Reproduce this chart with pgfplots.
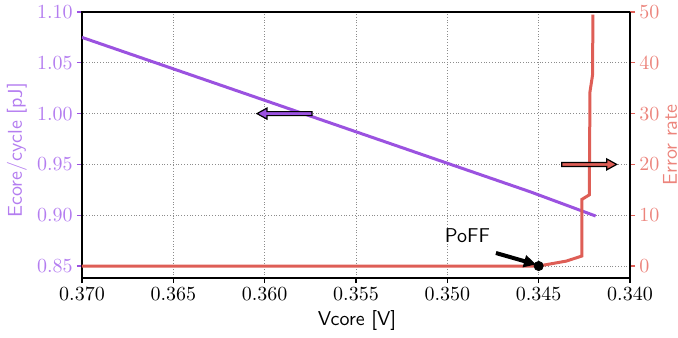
\documentclass[border=0pt]{standalone}
\usepackage{pgfplots}
\pgfplotsset{compat=1.18}
\usetikzlibrary{arrows.meta}
\definecolor{pline}{RGB}{155,82,224}
\definecolor{ptext}{RGB}{180,125,240}
\definecolor{rline}{RGB}{222,94,86}
\definecolor{rtext}{RGB}{236,132,124}
\begin{document}
\begin{tikzpicture}
\begin{axis}[
  scale only axis, width=274pt, height=133pt,
  x dir=reverse, xmin=0.340, xmax=0.370,
  ymin=0.8382, ymax=1.10,
  xtick={0.340,0.345,0.350,0.355,0.360,0.365,0.370},
  ytick={0.85,0.90,0.95,1.00,1.05,1.10},
  scaled x ticks=false, scaled y ticks=false,
  xticklabel style={/pgf/number format/fixed,/pgf/number format/fixed zerofill,/pgf/number format/precision=3, inner ysep=2pt},
  yticklabel style={/pgf/number format/fixed,/pgf/number format/fixed zerofill,/pgf/number format/precision=2,text=ptext, inner xsep=2pt},
  tick align=outside, xtick pos=bottom, ytick pos=left,
  major tick length=2.5pt,
  y tick style={pline, line width=0.6pt},
  x tick style={black, line width=0.6pt},
  axis line style={line width=0.6pt},
  grid=major, grid style={densely dotted, gray!90, line width=0.4pt},
  xlabel={\sffamily Vcore [V]},
  xlabel style={at={(axis description cs:0.502,-0.158)}, anchor=center},
  ylabel={\sffamily Ecore/cycle [pJ]},
  ylabel style={text=ptext, at={(axis description cs:-0.1186,0.48)}, anchor=center, rotate=0},
]
\addplot[pline, line width=1.5pt] coordinates {(0.370,1.075) (0.34547,0.9231) (0.34188,0.8992)};
\coordinate (LA) at (axis cs:0.36042,1.0);
\coordinate (SW) at (rel axis cs:0,0);
\coordinate (NE) at (rel axis cs:1,1);
\end{axis}
\begin{axis}[
  scale only axis, width=274pt, height=133pt,
  x dir=reverse, xmin=0.340, xmax=0.370,
  ymin=-2.36, ymax=50,
  axis y line*=right, axis x line=none,
  ytick={0,10,20,30,40,50},
  yticklabel style={text=rtext, inner xsep=2pt},
  tick align=outside, major tick length=2.5pt,
  y tick style={rline, line width=0.6pt},
  axis line style={line width=0.6pt},
  ylabel={\sffamily Error rate},
  ylabel style={text=rtext, at={(axis description cs:1.073,0.5)}, anchor=center},
  clip=false,
]
\addplot[rline, line width=1.5pt] coordinates {(0.370,0) (0.3455,0) (0.345,0) (0.34347,0.98) (0.34264,1.97) (0.34264,13.1) (0.34223,14.0) (0.34219,34.3) (0.34205,37.6) (0.34203,49.5)};
\addplot[only marks, mark=*, mark size=2.3pt, black] coordinates {(0.345,0)};
\coordinate (RA) at (axis cs:0.34073,20);
\coordinate (PA) at (axis cs:0.34734,2.56);
\coordinate (PB) at (axis cs:0.34515,0.3);
\coordinate (PT) at (axis cs:0.3489,5.9);
\end{axis}
\draw[black, fill=pline, line width=0.6pt] (LA) -- ++(5pt,2.75pt) -- ++(0,-1.75pt) -- ++(22.5pt,0) -- ++(0,-2pt) -- ++(-22.5pt,0) -- ++(0,-1.75pt) -- cycle;
\draw[black, fill=rline, line width=0.6pt] (RA) -- ++(-5pt,2.75pt) -- ++(0,-1.75pt) -- ++(-22.5pt,0) -- ++(0,-2pt) -- ++(22.5pt,0) -- ++(0,-1.75pt) -- cycle;
\draw[black, line width=2pt, -{Triangle[length=6pt,width=6pt]}] (PA) -- (PB);
\node[font=\sffamily] at (PT) {PoFF};
\pgfresetboundingbox
\path ([shift={(-41pt,-29.5pt)}]SW) rectangle ([shift={(24pt,6pt)}]NE);
\end{tikzpicture}
\end{document}
